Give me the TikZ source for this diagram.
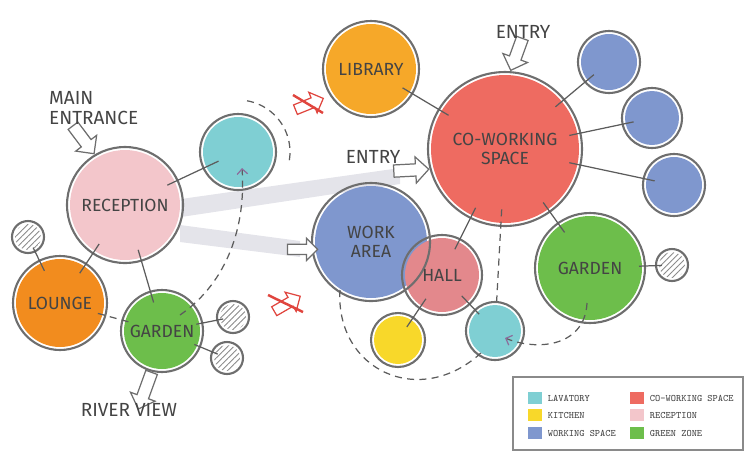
\documentclass[tikz,border=0pt]{standalone}
\usepackage{fontspec}
\newfontfamily\hand{Fira Sans}
\usetikzlibrary{shapes.arrows,arrows.meta,backgrounds,patterns.meta}

\definecolor{ringgray}{HTML}{6E6E6E}
\definecolor{linegray}{HTML}{5C5C5C}
\definecolor{inkgray}{HTML}{444444}
\definecolor{bandgray}{HTML}{E4E4EA}
\definecolor{hatchgray}{HTML}{8A8A8A}
\definecolor{noentry}{HTML}{E0453E}
\definecolor{tipviolet}{HTML}{8C6C9C}
\definecolor{recpink}{HTML}{F3C6CB}
\definecolor{lavteal}{HTML}{7FCFD3}
\definecolor{loungeorange}{HTML}{F28C1E}
\definecolor{libraryorange}{HTML}{F6A829}
\definecolor{zonegreen}{HTML}{6DBE4B}
\definecolor{coworkred}{HTML}{EE6B61}
\definecolor{workblue}{HTML}{7F97CE}
\definecolor{hallrose}{HTML}{E3888C}
\definecolor{kitchenyellow}{HTML}{F8D82A}

\tikzset{
  bubble/.style={circle, draw=ringgray, line width=1.2pt, inner sep=0pt, align=center,
    text=inkgray, font=\hand\fontsize{10}{10.5}\selectfont},
  hatchfill/.style={pattern={Lines[angle=45,distance=2.4pt,line width=0.5pt]}, pattern color=hatchgray},
  link/.style={draw=linegray, line width=0.7pt, shorten <=-7pt, shorten >=-7pt},
  flow/.style={draw=linegray, line width=0.7pt, dash pattern=on 4pt off 3pt},
  flowtip/.style={-{Straight Barb[length=3pt,width=6pt,color=tipviolet]}},
  gate/.style={single arrow, draw=ringgray, fill=white, line width=0.7pt, inner xsep=0pt, inner ysep=0.11cm,
    minimum height=0.78cm, minimum width=0pt, single arrow head extend=0.14cm},
  nogate/.style={gate, draw=noentry, minimum height=0.6cm, inner ysep=0.09cm, single arrow head extend=0.12cm},
  strike/.style={draw=noentry, line width=1.4pt},
  tag/.style={text=inkgray, font=\hand\fontsize{10.8}{11.5}\selectfont, align=left},
  swatch/.style={minimum width=0.28cm, minimum height=0.24cm, inner sep=0pt},
  keytext/.style={anchor=west, xshift=3pt, inner sep=0pt, text=inkgray, font=\fontsize{5.6}{6}\ttfamily}
}

\begin{document}
\begin{tikzpicture}[x=0.02cm, y=-0.02cm]
  \useasboundingbox (0,0) rectangle (750,467);

  % left wing
  \node[bubble, minimum size=2.32cm] (rec) at (125,205) {RECEPTION};
  \node[bubble, minimum size=1.52cm] (lavL) at (238,152) {};
  \node[bubble, minimum size=1.88cm] (lounge) at (60,303) {LOUNGE};
  \node[bubble, minimum size=0.64cm] (hatchA) at (28,237) {};
  \node[bubble, minimum size=1.64cm] (gardenL) at (162,331) {GARDEN};
  \node[bubble, minimum size=0.64cm] (hatchB) at (233,317) {};
  \node[bubble, minimum size=0.64cm] (hatchC) at (227,358) {};

  % right wing
  \node[bubble, minimum size=1.92cm] (library) at (371,69) {LIBRARY};
  \node[bubble, minimum size=3.08cm] (cowork) at (505,149) {CO-WORKING\\SPACE};
  \node[bubble, minimum size=1.24cm] (blueA) at (609,62) {};
  \node[bubble, minimum size=1.20cm] (blueB) at (652,118) {};
  \node[bubble, minimum size=1.24cm] (blueC) at (674,185) {};
  \node[bubble, minimum size=2.20cm] (gardenR) at (590,268) {GARDEN};
  \node[bubble, minimum size=0.64cm] (hatchD) at (672,265) {};
  \node[bubble, minimum size=2.36cm] (work) at (371,242) {WORK\\AREA};
  \node[bubble, minimum size=1.60cm] (hall) at (442,275) {HALL};
  \node[bubble, minimum size=1.08cm] (kitchen) at (398,340) {};
  \node[bubble, minimum size=1.16cm] (lavR) at (495,331) {};

  \begin{scope}[on background layer]
    \fill[bandgray] (181,199) -- (400,168) -- (400,184) -- (181,217) -- cycle;
    \fill[bandgray] (180,225) -- (300,241) -- (300,257) -- (180,242) -- cycle;
    \fill[recpink] (rec.center) circle[radius=55];
    \fill[lavteal] (lavL.center) circle[radius=35];
    \fill[loungeorange] (lounge.center) circle[radius=44];
    \fill[zonegreen] (gardenL.center) circle[radius=38];
    \fill[libraryorange] (library.center) circle[radius=45];
    \fill[coworkred] (cowork.center) circle[radius=74];
    \fill[workblue] (blueA.center) circle[radius=28];
    \fill[workblue] (blueB.center) circle[radius=27];
    \fill[workblue] (blueC.center) circle[radius=28];
    \fill[zonegreen] (gardenR.center) circle[radius=52];
    \fill[workblue] (work.center) circle[radius=56];
    \fill[hallrose] (hall.center) circle[radius=37];
    \fill[kitchenyellow] (kitchen.center) circle[radius=24];
    \fill[lavteal] (lavR.center) circle[radius=26];
    \fill[hatchfill] (hatchA.center) circle[radius=13];
    \fill[hatchfill] (hatchB.center) circle[radius=13];
    \fill[hatchfill] (hatchC.center) circle[radius=13];
    \fill[hatchfill] (hatchD.center) circle[radius=13];
  \end{scope}

  % links
  \draw[link, shorten >=-10pt] (rec) -- (lavL);
  \draw[link] (rec) -- (lounge);
  \draw[link] (rec) -- (gardenL);
  \draw[link, shorten <=-3pt] (hatchA) -- (lounge);
  \draw[link, shorten <=-4pt, shorten >=-4pt] (gardenL) -- (hatchB);
  \draw[link, shorten <=-4pt, shorten >=-4pt] (gardenL) -- (hatchC);
  \draw[link] (library) -- (cowork);
  \draw[link] (cowork) -- (blueA);
  \draw[link] (cowork) -- (blueB);
  \draw[link] (cowork) -- (blueC);
  \draw[link] (cowork) -- (gardenR);
  \draw[link, shorten <=-4pt, shorten >=-4pt] (gardenR) -- (hatchD);
  \draw[link] (cowork) -- (hall);
  \draw[link] (hall) -- (kitchen);
  \draw[link, shorten >=-4pt] (hall) -- (lavR);

  % dashed routes
  \draw[flow] ([shift={(-80:52)}]lavL.center) arc[start angle=-80, end angle=12, radius=52];
  \draw[flow, flowtip] ([shift={(18,-16)}]gardenL.center) .. controls (228,282) and (246,225) .. ([shift={(4,16)}]lavL.center);
  \draw[flow, shorten <=-5pt, shorten >=-5pt] (lounge) -- (gardenL);
  \draw[flow, shorten <=-10pt] (cowork) -- (lavR);
  \draw[flow] ([shift={(-31,48)}]work.center) .. controls (335,370) and (420,410) .. ([shift={(-13,21)}]lavR.center);
  \draw[flow, flowtip] ([shift={(-3,35)}]gardenR.center) .. controls (585,345) and (540,352) .. ([shift={(10,7)}]lavR.center);

  % entries
  \node[gate, rotate=-53, anchor=tip, minimum height=0.7cm] (mainGate) at (rec.121) {};
  \node[gate, rotate=-110, anchor=tip, minimum height=0.68cm] (topGate) at (cowork.86) {};
  \node[gate, rotate=3, anchor=tip, minimum height=0.7cm] (midGate) at (cowork.195) {};
  \node[gate, anchor=tip, minimum height=0.6cm, inner ysep=0.09cm, single arrow head extend=0.12cm] (workGate) at ([xshift=4pt]work.187) {};
  \node[gate, rotate=-110, anchor=tail] (riverGate) at (gardenL.256) {};
  \node[nogate, rotate=22] (noA) at (307,105) {};
  \draw[strike] ([shift={(-14,-10)}]noA.center) -- ([shift={(16,8)}]noA.center);
  \node[nogate, rotate=30] (noB) at (285,305) {};
  \draw[strike] ([shift={(-17,-10)}]noB.center) -- ([shift={(18,7)}]noB.center);

  % tags
  \node[tag, anchor=west] (mainTag) at (43,108) {MAIN\\ENTRANCE};
  \node[tag] (topTag) at (523,32) {ENTRY};
  \node[tag] (midTag) at (373,157) {ENTRY};
  \node[tag] (riverTag) at (129,410) {RIVER VIEW};

  % legend
  \draw[draw=hatchgray, line width=0.9pt, fill=white] (513,377) rectangle (743,450);
  \node[swatch, fill=lavteal] (kLav) at (535,398) {};
  \node[keytext] (tLav) at (kLav.east) {LAVATORY};
  \node[swatch, fill=kitchenyellow] (kKit) at (535,415) {};
  \node[keytext] (tKit) at (kKit.east) {KITCHEN};
  \node[swatch, fill=workblue] (kWork) at (535,433) {};
  \node[keytext] (tWork) at (kWork.east) {WORKING SPACE};
  \node[swatch, fill=coworkred] (kCow) at (637,398) {};
  \node[keytext] (tCow) at (kCow.east) {CO-WORKING SPACE};
  \node[swatch, fill=recpink] (kRec) at (637,415) {};
  \node[keytext] (tRec) at (kRec.east) {RECEPTION};
  \node[swatch, fill=zonegreen] (kGreen) at (637,433) {};
  \node[keytext] (tGreen) at (kGreen.east) {GREEN ZONE};
\end{tikzpicture}
\end{document}
